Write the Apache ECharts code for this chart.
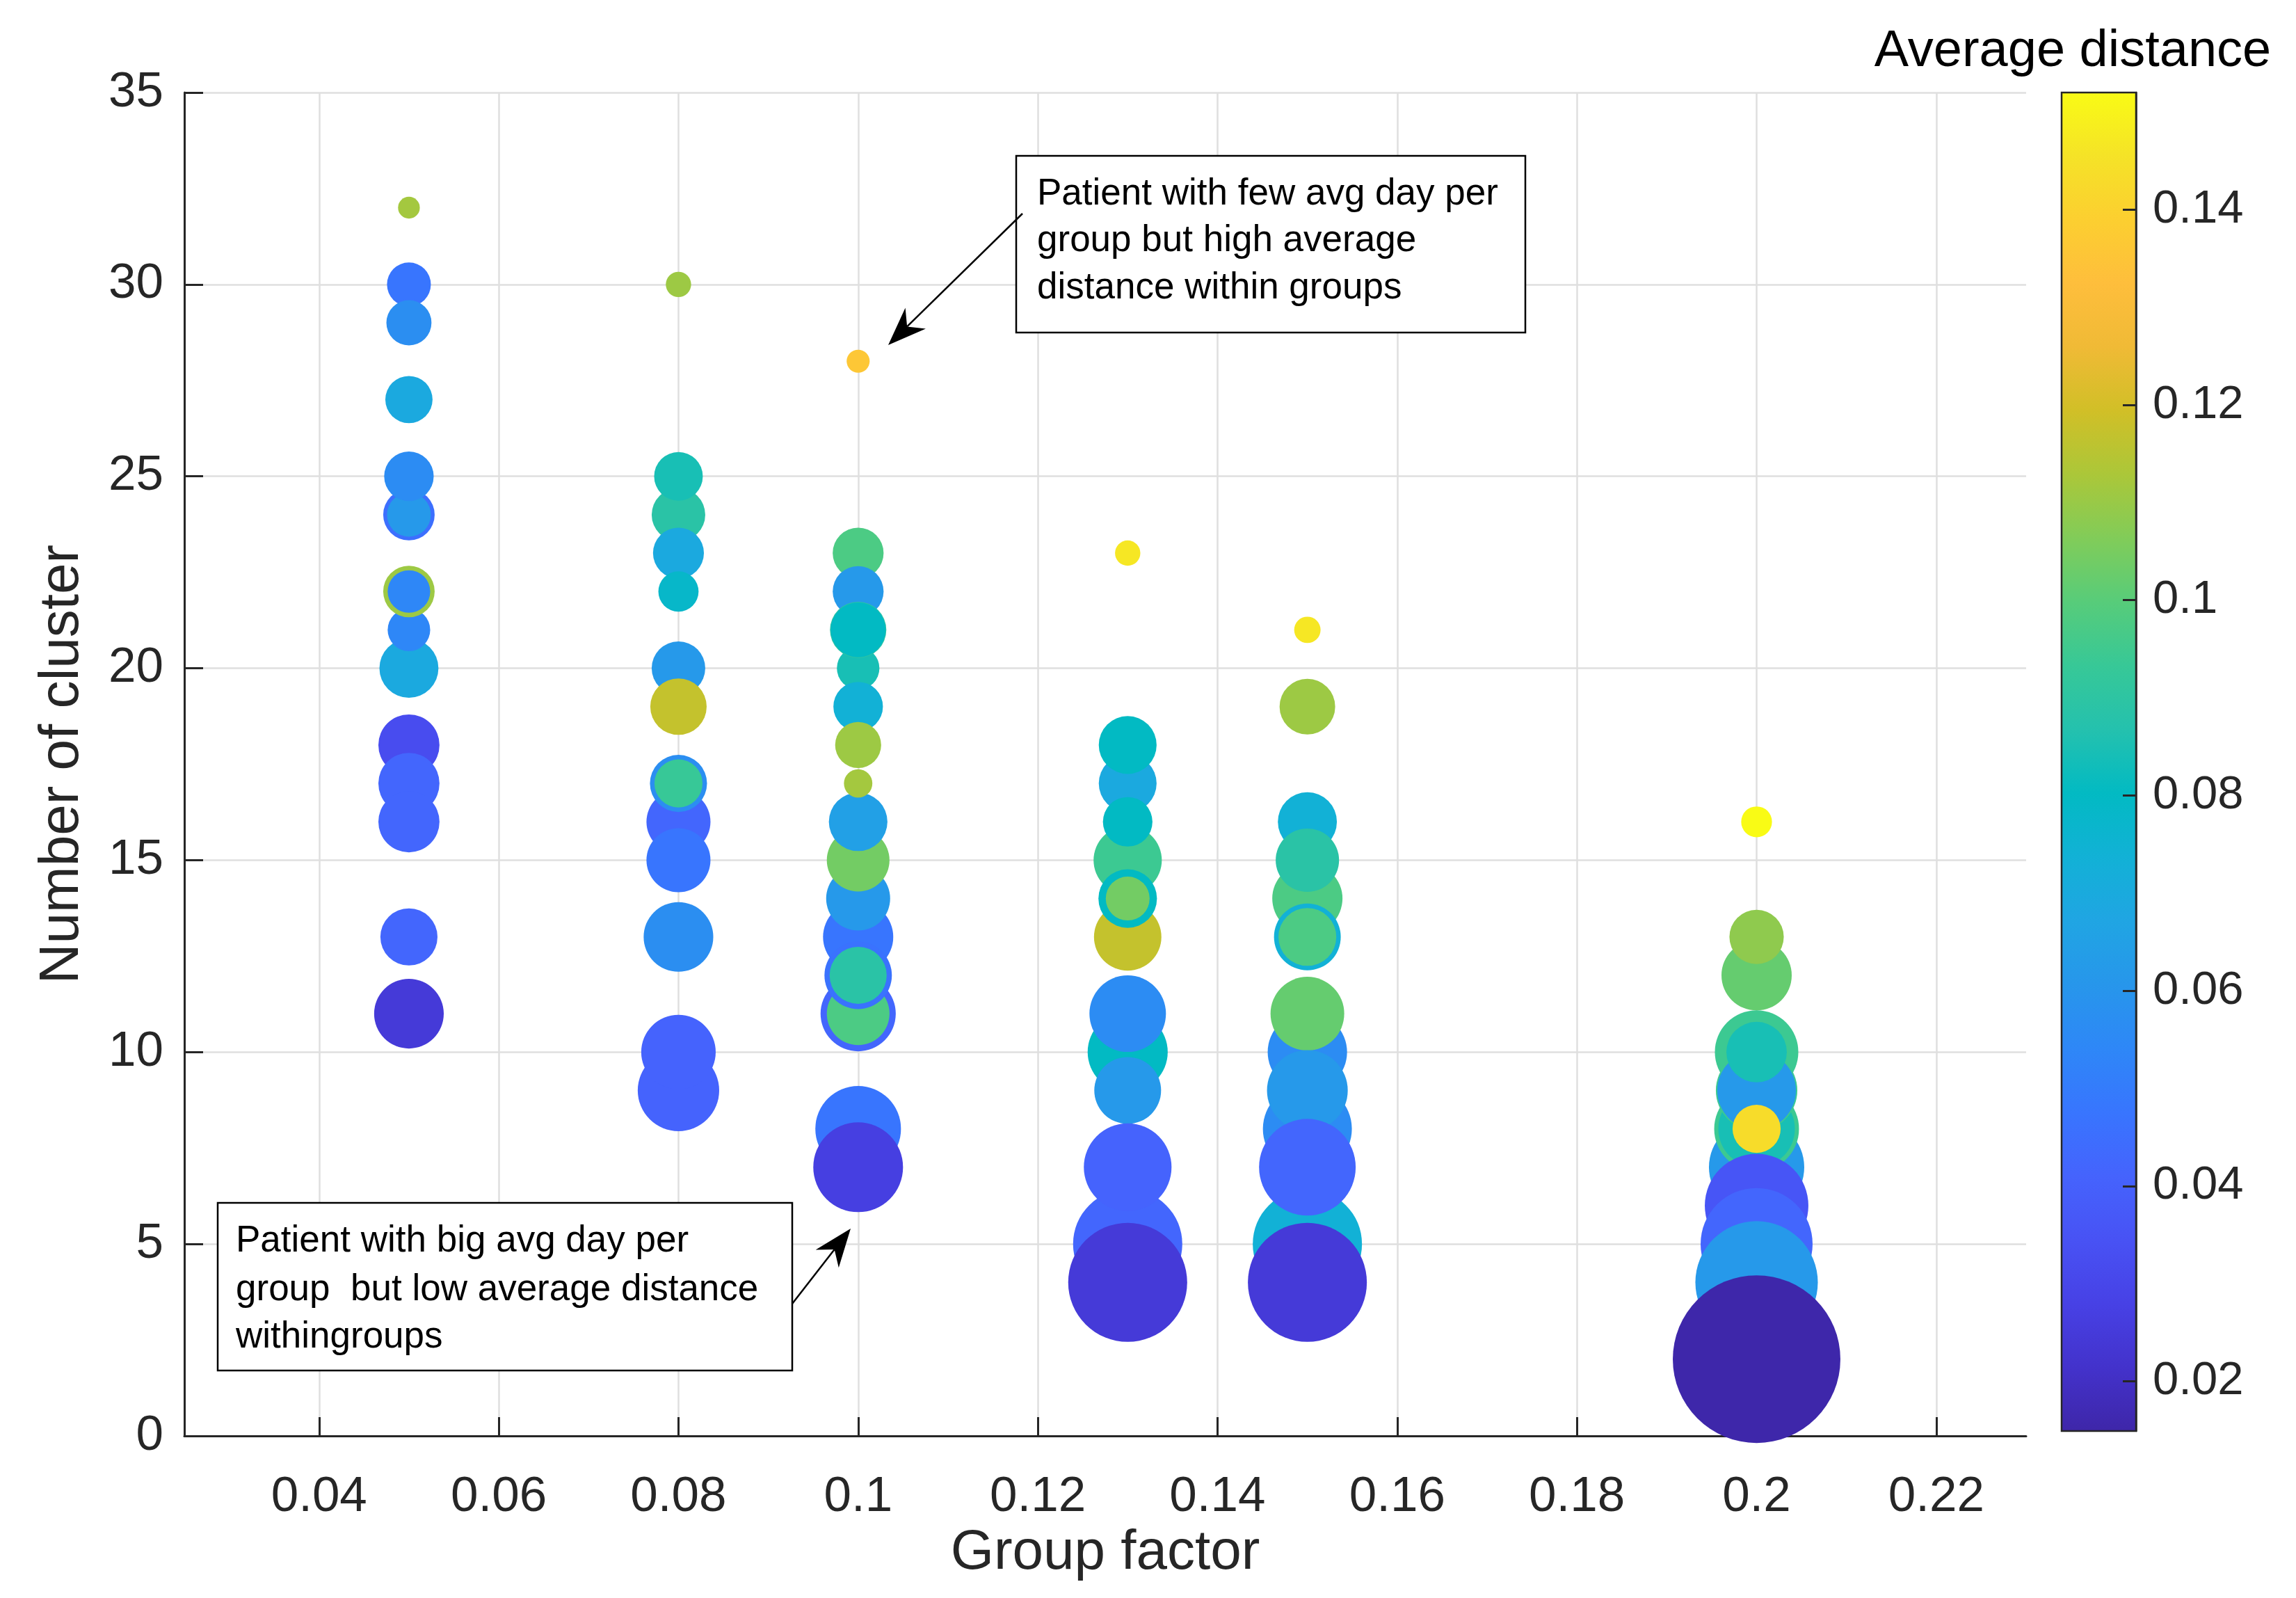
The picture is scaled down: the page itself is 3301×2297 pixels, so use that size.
<!DOCTYPE html>
<html>
<head>
<meta charset="utf-8">
<script src="https://cdn.jsdelivr.net/npm/echarts@6/dist/echarts.min.js"></script>
<style>
html, body { margin: 0; padding: 0; background: #fff; }
#bubbleChart { width: 3301px; height: 2297px; }
</style>
</head>
<body>
<div id="bubbleChart"></div>
<script>
// one entry per group factor, points listed in drawing order
var groupFactors = [0.05, 0.08, 0.1, 0.13, 0.15, 0.2];
var clusters = [
	[32, 30, 29, 27, 20, 21, 22, 22, 24, 24, 25, 18, 17, 16, 13, 11],
	[30, 24, 25, 23, 22, 20, 19, 16, 17, 17, 15, 13, 9, 10],
	[28, 23, 22, 20, 21, 21, 19, 18, 13, 14, 15, 16, 17, 11, 11, 12, 12, 8, 7],
	[23, 17, 18, 15, 16, 13, 14, 14, 10, 11, 9, 5, 7, 4],
	[21, 19, 14, 16, 15, 13, 13, 10, 11, 8, 9, 5, 7, 4],
	[16, 12, 13, 10, 7, 8, 8, 9, 9, 10, 8, 6, 5, 4, 2]
];
var avgDay = [
	[1.7, 6.9, 7.3, 8.0, 12.5, 6.5, 9.5, 6.5, 9.5, 6.9, 8.8, 13.4, 13.4, 13.4, 11.7, 17.4],
	[2.3, 10.3, 8.5, 9.3, 5.8, 10.3, 11.4, 14.7, 11.7, 8.3, 14.7, 17.4, 23.8, 19.9],
	[1.9, 9.3, 9.3, 6.5, 11.4, 10.8, 8.8, 7.6, 17.7, 14.7, 14.1, 12.3, 2.9, 20.3, 14.1, 16.3, 11.7, 26.3, 28.9],
	[2.3, 12.0, 12.0, 16.7, 8.8, 16.3, 12.3, 6.9, 23.0, 21.0, 16.0, 42.8, 27.6, 50.8],
	[2.5, 11.1, 17.7, 12.5, 14.4, 16.0, 12.0, 22.6, 19.5, 28.4, 23.4, 42.8, 33.5, 50.8],
	[3.4, 17.7, 10.6, 25.0, 32.6, 25.8, 21.0, 23.8, 22.2, 13.1, 8.3, 38.5, 45.0, 53.8, 100.8]
];
var avgDist = [
	[0.1117, 0.0475, 0.0573, 0.0693, 0.0693, 0.0541, 0.1106, 0.0541, 0.0454, 0.0617, 0.0562, 0.0323, 0.0421, 0.0421, 0.0421, 0.0247],
	[0.1106, 0.0889, 0.0845, 0.0693, 0.0780, 0.0617, 0.1172, 0.0421, 0.0573, 0.0932, 0.0475, 0.0573, 0.0410, 0.0410],
	[0.1357, 0.0976, 0.0617, 0.0845, 0.0889, 0.0802, 0.0737, 0.1106, 0.0475, 0.0617, 0.1041, 0.0650, 0.1117, 0.0421, 0.0976, 0.0465, 0.0889, 0.0475, 0.0269],
	[0.1466, 0.0693, 0.0802, 0.0943, 0.0802, 0.1172, 0.0802, 0.1041, 0.0802, 0.0562, 0.0617, 0.0421, 0.0410, 0.0247],
	[0.1466, 0.1106, 0.0976, 0.0737, 0.0889, 0.0737, 0.0976, 0.0562, 0.1019, 0.0562, 0.0617, 0.0737, 0.0421, 0.0247],
	[0.1520, 0.1019, 0.1085, 0.0943, 0.0617, 0.0943, 0.0845, 0.0943, 0.0617, 0.0845, 0.1433, 0.0356, 0.0421, 0.0617, 0.0152]
];
var xTicks = [0.04, 0.06, 0.08, 0.1, 0.12, 0.14, 0.16, 0.18, 0.2, 0.22];
var cbTicks = [0.02, 0.04, 0.06, 0.08, 0.1, 0.12, 0.14];
var cbMin = 0.0149, cbMax = 0.152;

// parula
var parula = ['#3e26a8', '#4332cb', '#4741e5', '#4852f4', '#4563fd', '#3875fe', '#2e87f7', '#2796eb',
	'#20a5e3', '#12b1d6', '#02bac3', '#24c1ae', '#37c897', '#57cc7a', '#81cc59', '#abc739',
	'#d1bf27', '#f0ba36', '#febe3c', '#fccf30', '#f5e327', '#f9fb15'];

var points = [];
for (var g = 0; g < groupFactors.length; g++) {
	for (var k = 0; k < clusters[g].length; k++) {
		points.push([groupFactors[g], clusters[g][k], avgDay[g][k], avgDist[g][k]]);
	}
}

var gradStops = parula.map(function (c, i) {
	return { offset: i / (parula.length - 1), color: c };
});

var FONT = 'Liberation Sans, Arial, Helvetica, sans-serif';
var AX = '#262626';

function arrow(x0, y0, x1, y1) {
	var dx = x1 - x0, dy = y1 - y0, L = Math.sqrt(dx * dx + dy * dy);
	var ux = dx / L, uy = dy / L, px = -uy, py = ux;
	var len = 55, hw = 21, notch = 38;
	var nx = x1 - ux * notch, ny = y1 - uy * notch;
	return [{
		type: 'line', silent: true, z: 100,
		shape: { x1: x0, y1: y0, x2: nx, y2: ny },
		style: { stroke: '#000', lineWidth: 2.5 }
	}, {
		type: 'polygon', silent: true, z: 100,
		shape: { points: [[x1, y1], [x1 - ux * len + px * hw, y1 - uy * len + py * hw], [nx, ny], [x1 - ux * len - px * hw, y1 - uy * len - py * hw]] },
		style: { fill: '#000' }
	}];
}

function textBox(x, y, w, h, lines, tx, ty) {
	var els = [{
		type: 'rect', silent: true, z: 100,
		shape: { x: x, y: y, width: w, height: h },
		style: { fill: '#fff', stroke: '#000', lineWidth: 2.5 }
	}];
	lines.forEach(function (t, i) {
		els.push({
			type: 'text', silent: true, z: 101, x: tx, y: ty[i],
			style: { text: t, fill: '#000', fontSize: 53, fontFamily: FONT, textAlign: 'left', textVerticalAlign: 'middle' }
		});
	});
	return els;
}

var graphics = []
	.concat(textBox(1461, 224, 732, 254, ['Patient with few avg day per', 'group but high average', 'distance within groups'], 1491, [279, 346, 414]))
	.concat(textBox(313, 1729, 826, 241, ['Patient with big avg day per', 'group  but low average distance', 'withingroups'], 339, [1784, 1854, 1922]))
	.concat(arrow(1470, 307, 1277, 496))
	.concat(arrow(1139, 1874, 1223, 1766));
graphics.push({
	type: 'text', silent: true, z: 100, x: 2980, y: 75,
	style: { text: 'Average distance', fill: '#000', fontSize: 74, fontFamily: FONT, textAlign: 'center', textVerticalAlign: 'middle' }
});

var bubbleChart = echarts.init(document.getElementById('bubbleChart'));
var option = {
	animation: false,
	backgroundColor: '#fff',
	textStyle: { fontFamily: FONT },
	grid: [
		{ left: 265, top: 133, width: 2648, height: 1931, containLabel: false, outerBoundsMode: 'none' },
		{ left: 2964, top: 133, width: 107, height: 1924, containLabel: false, outerBoundsMode: 'none' }
	],
	xAxis: [{
		gridIndex: 0,
		type: 'value',
		min: 0.025,
		max: 0.23,
		name: 'Group factor',
		nameLocation: 'middle',
		nameGap: 113,
		nameTextStyle: { fontSize: 80, color: AX, fontFamily: FONT },
		axisLine: { show: true, onZero: false, lineStyle: { color: AX, width: 3 } },
		axisTick: { show: true, inside: true, length: 27, customValues: xTicks, lineStyle: { color: AX, width: 3 } },
		axisLabel: { customValues: xTicks, fontSize: 71, color: AX, margin: 53, fontFamily: FONT },
		splitLine: { show: true, lineStyle: { color: '#dfdfdf', width: 2.5 } }
	}, {
		gridIndex: 1,
		type: 'value',
		min: 0,
		max: 1,
		show: false
	}],
	yAxis: [{
		gridIndex: 0,
		type: 'value',
		min: 0,
		max: 35,
		interval: 5,
		name: 'Number of cluster',
		nameLocation: 'middle',
		nameGap: 135,
		nameTextStyle: { fontSize: 80, color: AX, fontFamily: FONT },
		axisLine: { show: true, onZero: false, lineStyle: { color: AX, width: 3 } },
		axisTick: { show: true, inside: true, length: 27, lineStyle: { color: AX, width: 3 } },
		axisLabel: { fontSize: 71, color: AX, margin: 30, fontFamily: FONT },
		splitLine: { show: true, lineStyle: { color: '#dfdfdf', width: 2.5 } }
	}, {
		gridIndex: 1,
		type: 'value',
		position: 'right',
		min: cbMin,
		max: cbMax,
		z: 10,
		axisLine: { show: true, onZero: false, lineStyle: { color: AX, width: 2.5 } },
		axisTick: { show: true, inside: true, length: 19, customValues: cbTicks, lineStyle: { color: AX, width: 3 } },
		axisLabel: { customValues: cbTicks, fontSize: 67, color: AX, margin: 24, fontFamily: FONT },
		splitLine: { show: false }
	}],
	visualMap: {
		show: false,
		type: 'continuous',
		seriesIndex: 0,
		dimension: 3,
		min: cbMin,
		max: cbMax,
		inRange: { color: parula }
	},
	series: [{
		type: 'scatter',
		xAxisIndex: 0,
		yAxisIndex: 0,
		data: points,
		symbolSize: function (v) { return 24 * Math.sqrt(v[2]); },
		itemStyle: { opacity: 1 },
		emphasis: { disabled: true },
		clip: false,
		z: 3
	}, {
		type: 'custom',
		xAxisIndex: 1,
		yAxisIndex: 1,
		silent: true,
		data: [[0, cbMin, 1, cbMax]],
		renderItem: function (params, api) {
			var p0 = api.coord([api.value(0), api.value(1)]);
			var p1 = api.coord([api.value(2), api.value(3)]);
			return {
				type: 'rect',
				shape: { x: p0[0], y: p1[1], width: p1[0] - p0[0], height: p0[1] - p1[1] },
				style: {
					fill: new echarts.graphic.LinearGradient(0, 1, 0, 0, gradStops),
					stroke: AX,
					lineWidth: 2.5
				}
			};
		},
		z: 0
	}],
	graphic: graphics
};
bubbleChart.setOption(option);
</script>
</body>
</html>
